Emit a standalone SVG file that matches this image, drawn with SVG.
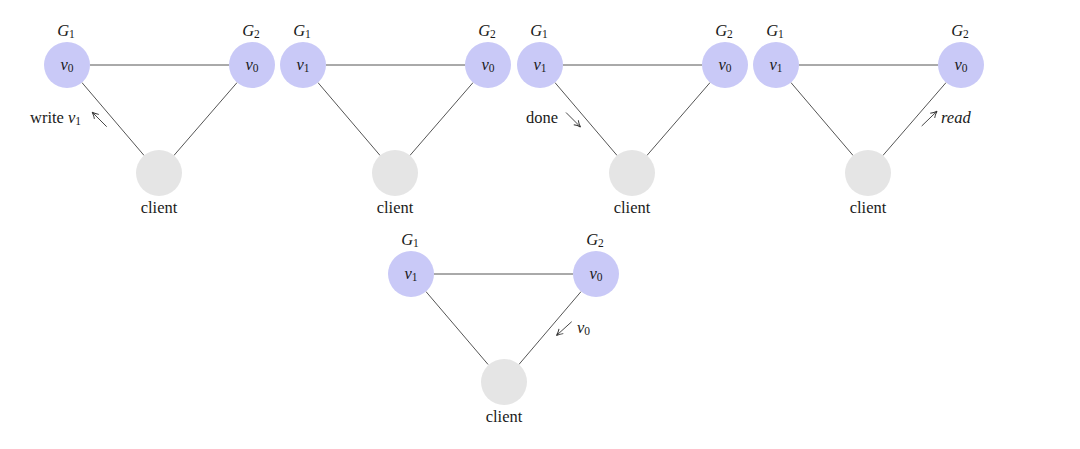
<svg xmlns="http://www.w3.org/2000/svg" width="1080" height="449" viewBox="0 0 1080 449">
<style>
.bg{fill:#ffffff}
.srv{fill:#c9c9f7}
.cli{fill:#e5e5e5}
.edge{stroke:#555555;stroke-width:1;fill:none}
.arr{stroke:#333333;stroke-width:0.9;fill:none}
text{font-family:"Liberation Serif","DejaVu Serif",serif;font-size:16.5px;fill:#1a1a1a}
.m{font-style:italic}
.c{text-anchor:middle}
.sub{font-size:11.5px;font-style:normal}
</style>
<defs>
<marker id="ah" viewBox="0 0 10 10" refX="8" refY="5" markerWidth="8" markerHeight="8" orient="auto" markerUnits="userSpaceOnUse">
<path d="M1,1 Q5,4 9,5 Q5,6 1,9" fill="none" stroke="#333333" stroke-width="1.2"/>
</marker>
</defs>
<rect class="bg" x="0" y="0" width="1080" height="449"/>

<g id="connectors">
<line class="edge" x1="90" y1="65" x2="229" y2="65"/>
<line class="edge" x1="81.9" y1="82.5" x2="144.1" y2="155.5"/>
<line class="edge" x1="237.1" y1="82.5" x2="173.9" y2="155.5"/>
<line class="arr" x1="106.7" y1="126.7" x2="92.7" y2="112.7" marker-end="url(#ah)"/>
<line class="edge" x1="326" y1="65" x2="465" y2="65"/>
<line class="edge" x1="317.9" y1="82.5" x2="380.1" y2="155.5"/>
<line class="edge" x1="473.1" y1="82.5" x2="409.9" y2="155.5"/>
<line class="edge" x1="563" y1="65" x2="702" y2="65"/>
<line class="edge" x1="554.9" y1="82.5" x2="617.1" y2="155.5"/>
<line class="edge" x1="710.1" y1="82.5" x2="646.9" y2="155.5"/>
<line class="arr" x1="566" y1="112.5" x2="580" y2="126.5" marker-end="url(#ah)"/>
<line class="edge" x1="799" y1="65" x2="938" y2="65"/>
<line class="edge" x1="790.9" y1="82.5" x2="853.1" y2="155.5"/>
<line class="edge" x1="946.1" y1="82.5" x2="882.9" y2="155.5"/>
<line class="arr" x1="921.7" y1="126" x2="936.5" y2="111.7" marker-end="url(#ah)"/>
<line class="edge" x1="434" y1="274" x2="573" y2="274"/>
<line class="edge" x1="425.9" y1="291.5" x2="488.1" y2="364.5"/>
<line class="edge" x1="581.1" y1="291.5" x2="518.9" y2="364.5"/>
<line class="arr" x1="571.7" y1="321.7" x2="557" y2="335" marker-end="url(#ah)"/>
</g>

<g id="d1-g1">
<circle class="srv" cx="67" cy="65" r="23"/>
<text class="c m" x="67" y="70">v<tspan class="sub" dy="2">0</tspan></text>
<text class="c m" x="66" y="36">G<tspan class="sub" dy="2">1</tspan></text>
</g>
<g id="d1-g2">
<circle class="srv" cx="252" cy="65" r="23"/>
<text class="c m" x="252" y="70">v<tspan class="sub" dy="2">0</tspan></text>
<text class="c m" x="251" y="36">G<tspan class="sub" dy="2">2</tspan></text>
</g>
<g id="d1-client">
<circle class="cli" cx="159" cy="173" r="23"/>
<text class="c" x="159" y="213">client</text>
</g>
<g id="d1-label">
<text x="30" y="123">write <tspan class="m">v</tspan><tspan class="sub" dy="2">1</tspan></text>
</g>

<g id="d2-g1">
<circle class="srv" cx="303" cy="65" r="23"/>
<text class="c m" x="303" y="70">v<tspan class="sub" dy="2">1</tspan></text>
<text class="c m" x="302" y="36">G<tspan class="sub" dy="2">1</tspan></text>
</g>
<g id="d2-g2">
<circle class="srv" cx="488" cy="65" r="23"/>
<text class="c m" x="488" y="70">v<tspan class="sub" dy="2">0</tspan></text>
<text class="c m" x="487" y="36">G<tspan class="sub" dy="2">2</tspan></text>
</g>
<g id="d2-client">
<circle class="cli" cx="395" cy="173" r="23"/>
<text class="c" x="395" y="213">client</text>
</g>

<g id="d3-g1">
<circle class="srv" cx="540" cy="65" r="23"/>
<text class="c m" x="540" y="70">v<tspan class="sub" dy="2">1</tspan></text>
<text class="c m" x="539" y="36">G<tspan class="sub" dy="2">1</tspan></text>
</g>
<g id="d3-g2">
<circle class="srv" cx="725" cy="65" r="23"/>
<text class="c m" x="725" y="70">v<tspan class="sub" dy="2">0</tspan></text>
<text class="c m" x="724" y="36">G<tspan class="sub" dy="2">2</tspan></text>
</g>
<g id="d3-client">
<circle class="cli" cx="632" cy="173" r="23"/>
<text class="c" x="632" y="213">client</text>
</g>
<g id="d3-label">
<text x="526" y="123">done</text>
</g>

<g id="d4-g1">
<circle class="srv" cx="776" cy="65" r="23"/>
<text class="c m" x="776" y="70">v<tspan class="sub" dy="2">1</tspan></text>
<text class="c m" x="775" y="36">G<tspan class="sub" dy="2">1</tspan></text>
</g>
<g id="d4-g2">
<circle class="srv" cx="961" cy="65" r="23"/>
<text class="c m" x="961" y="70">v<tspan class="sub" dy="2">0</tspan></text>
<text class="c m" x="960" y="36">G<tspan class="sub" dy="2">2</tspan></text>
</g>
<g id="d4-client">
<circle class="cli" cx="868" cy="173" r="23"/>
<text class="c" x="868" y="213">client</text>
</g>
<g id="d4-label">
<text class="m" x="941" y="123">read</text>
</g>

<g id="d5-g1">
<circle class="srv" cx="411" cy="274" r="23"/>
<text class="c m" x="411" y="279">v<tspan class="sub" dy="2">1</tspan></text>
<text class="c m" x="410" y="245">G<tspan class="sub" dy="2">1</tspan></text>
</g>
<g id="d5-g2">
<circle class="srv" cx="596" cy="274" r="23"/>
<text class="c m" x="596" y="279">v<tspan class="sub" dy="2">0</tspan></text>
<text class="c m" x="595" y="245">G<tspan class="sub" dy="2">2</tspan></text>
</g>
<g id="d5-client">
<circle class="cli" cx="504" cy="382" r="23"/>
<text class="c" x="504" y="422">client</text>
</g>
<g id="d5-label">
<text class="m" x="577" y="333">v<tspan class="sub" dy="2">0</tspan></text>
</g>
</svg>
